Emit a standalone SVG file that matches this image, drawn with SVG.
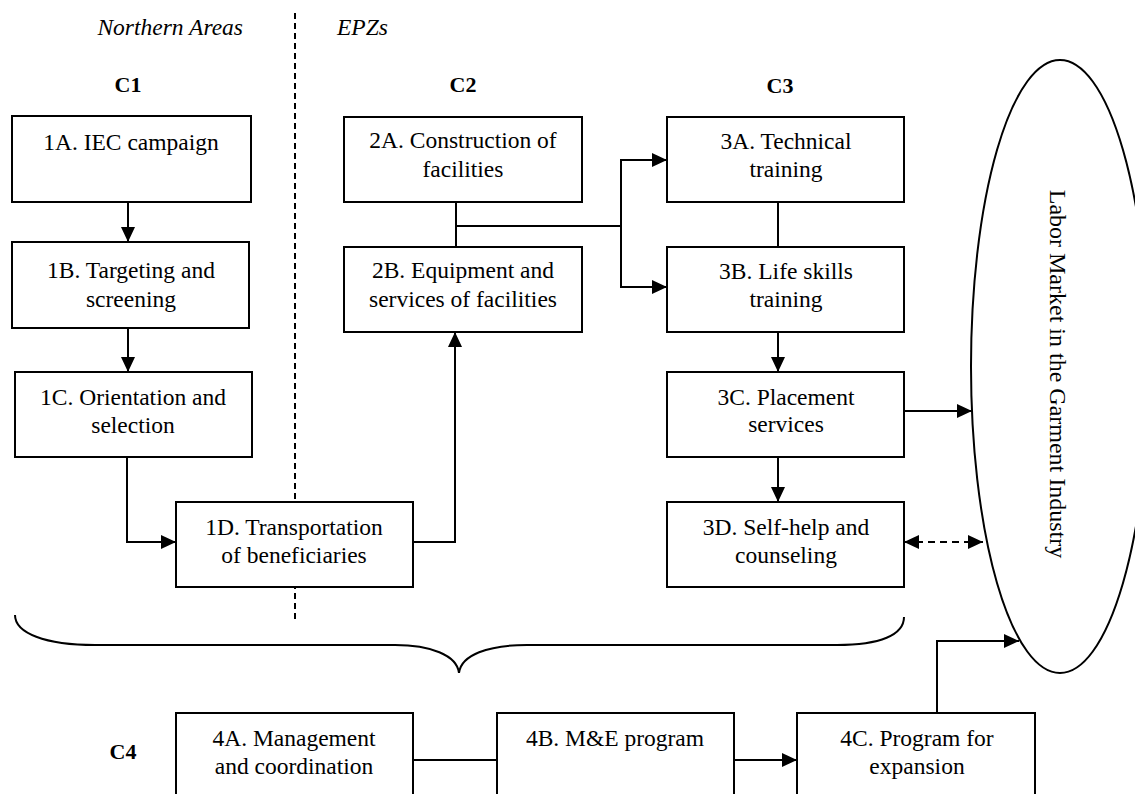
<svg xmlns="http://www.w3.org/2000/svg" width="1135" height="794" viewBox="0 0 1135 794">
<defs>
<marker id="ah" markerUnits="userSpaceOnUse" markerWidth="15" markerHeight="14" refX="15" refY="7" orient="auto-start-reverse">
<path d="M0,0 L15,7 L0,14 Z" fill="#000"/>
</marker>
<style>
text{font-family:"Liberation Serif","Times New Roman",serif;font-size:23.5px;fill:#000;text-anchor:middle}
.hd{font-weight:bold;font-size:22px}
.it{font-style:italic}
.box{fill:#fff;stroke:#000;stroke-width:2}
.c{fill:none;stroke:#000;stroke-width:2}
.arr{marker-end:url(#ah)}
</style>
</defs>
<rect width="1135" height="794" fill="#fff"/>
<g id="labels">
<text class="it" x="243" y="35" style="text-anchor:end">Northern Areas</text>
<text class="it" x="337" y="35" style="text-anchor:start">EPZs</text>
<text class="hd" x="128" y="92">C1</text>
<text class="hd" x="463" y="92">C2</text>
<text class="hd" x="780" y="93">C3</text>
<text class="hd" x="123" y="759">C4</text>
</g>
<path id="divider" d="M295,13 V622" fill="none" stroke="#000" stroke-width="2" stroke-dasharray="6,4"/>
<path id="brace" class="c" d="M15,615 C15,633 45,645 95,645 L395,645 C430,645 457,655 459,673 C461,655 488,645 527,645 L837,645 C880,645 904,635 904,617"/>
<g id="connectors">
<path class="c arr" d="M128,202 V242"/>
<path class="c arr" d="M128,328 V372"/>
<path class="c arr" d="M127,457 V542 H176"/>
<path class="c arr" d="M413,542 H455 V332"/>
<path class="c" d="M456,202 V247 M456,226 H621"/>
<path class="c arr" d="M621,226 V160 H667"/>
<path class="c arr" d="M621,226 V287 H667"/>
<path class="c" d="M778,202 V247"/>
<path class="c arr" d="M778,332 V372"/>
<path class="c arr" d="M778,457 V502"/>
<path class="c arr" d="M904,411 H972"/>
<path class="c" d="M904,542 H983" stroke-dasharray="7,5" marker-start="url(#ah)" marker-end="url(#ah)"/>
<path class="c" d="M413,760 H497"/>
<path class="c arr" d="M734,760 H797"/>
<path class="c arr" d="M937,713 V641 H1019"/>
</g>
<g id="n1A"><rect class="box" x="12" y="116" width="239" height="86"/><text x="131" y="150">1A. IEC campaign</text></g>
<g id="n1B"><rect class="box" x="12" y="242" width="237" height="86"/><text x="131" y="278">1B. Targeting and</text><text x="131" y="307">screening</text></g>
<g id="n1C"><rect class="box" x="15" y="372" width="237" height="85"/><text x="133" y="405">1C. Orientation and</text><text x="133" y="433">selection</text></g>
<g id="n1D"><rect class="box" x="176" y="502" width="237" height="85"/><text x="294" y="535">1D. Transportation</text><text x="294" y="563">of beneficiaries</text></g>
<g id="n2A"><rect class="box" x="344" y="117" width="238" height="85"/><text x="463" y="148">2A. Construction of</text><text x="463" y="177">facilities</text></g>
<g id="n2B"><rect class="box" x="344" y="247" width="238" height="85"/><text x="463" y="278">2B. Equipment and</text><text x="463" y="307">services of facilities</text></g>
<g id="n3A"><rect class="box" x="667" y="117" width="237" height="85"/><text x="786" y="149">3A. Technical</text><text x="786" y="177">training</text></g>
<g id="n3B"><rect class="box" x="667" y="247" width="237" height="85"/><text x="786" y="279">3B. Life skills</text><text x="786" y="307">training</text></g>
<g id="n3C"><rect class="box" x="667" y="372" width="237" height="85"/><text x="786" y="405">3C. Placement</text><text x="786" y="432">services</text></g>
<g id="n3D"><rect class="box" x="667" y="502" width="237" height="85"/><text x="786" y="535">3D. Self-help and</text><text x="786" y="563">counseling</text></g>
<g id="n4A"><rect class="box" x="176" y="713" width="237" height="100"/><text x="294" y="746">4A. Management</text><text x="294" y="774">and coordination</text></g>
<g id="n4B"><rect class="box" x="497" y="713" width="237" height="100"/><text x="615" y="746">4B. M&amp;E program</text></g>
<g id="n4C"><rect class="box" x="797" y="713" width="238" height="100"/><text x="917" y="746">4C. Program for</text><text x="917" y="774">expansion</text></g>
<g id="market"><ellipse cx="1060" cy="366.5" rx="89" ry="306.5" fill="none" stroke="#000" stroke-width="2"/><text x="0" y="0" style="font-size:24px" transform="translate(1050,374) rotate(90)">Labor Market in the Garment Industry</text></g>
</svg>
